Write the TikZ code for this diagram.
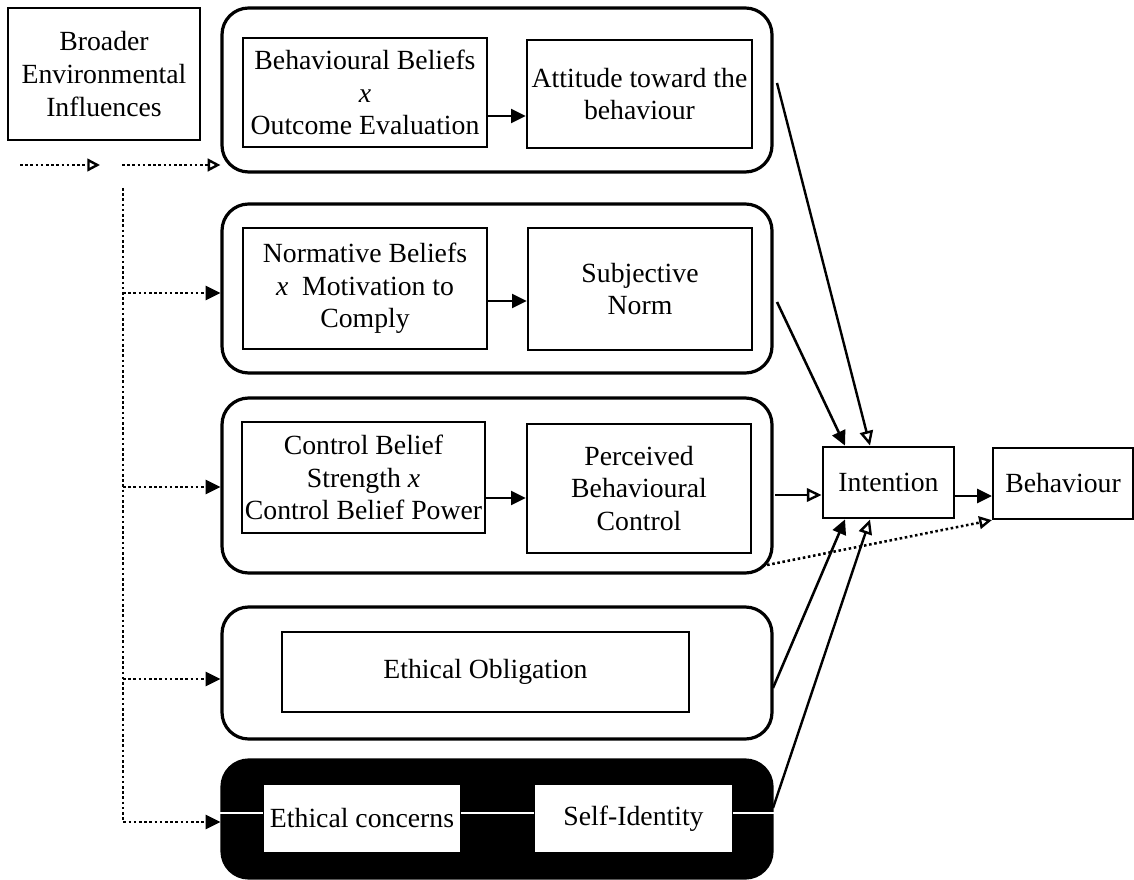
\documentclass[tikz,border=0pt]{standalone}
\usepackage{fontspec}
\setmainfont{Liberation Serif}
\usetikzlibrary{arrows.meta,fit}
\begin{document}
\begin{tikzpicture}[x=0.75pt,y=-0.75pt,
  grp/.style={draw, line width=2.4pt, rounded corners=20pt, inner sep=0pt},
  box/.style={draw, line width=2pt, inner sep=0pt, align=center, fill=white,
              font=\fontsize{20.8}{24.5}\selectfont},
  arr/.style={line width=1.9pt, -{Triangle[length=11pt,width=10.5pt]}},
  arro/.style={line width=1.8pt, -{Triangle[open,length=11pt,width=10pt]}},
  dots/.style={line width=1.9pt, dash pattern=on 1.9pt off 2pt},
  dtip/.style={-{Triangle[open,length=9.5pt,width=9.5pt,line width=1.8pt]}},
  dtipf/.style={-{Triangle[length=11pt,width=10.5pt]}}
]
\useasboundingbox (0,0) rectangle (1134,880);

% source of external influences
\node[box, line width=1.6pt, minimum width=144pt, minimum height=99pt,
      font=\fontsize{20.8}{25}\selectfont] (env) at (104,74)
  {Broader\\Environmental\\Influences};

% group frames
\node[grp, fit={(222,8)(772,172)}]   (g1) {};
\node[grp, fit={(222,204)(772,373)}] (g2) {};
\node[grp, fit={(222,398)(772,573)}] (g3) {};
\node[grp, fit={(222,607)(772,739)}] (g4) {};
\node[grp, fill=black, fit={(222,760)(772,878)}] (g5) {};

% group 1: attitude
\node[box, minimum width=183pt, minimum height=81.75pt] (bb) at (365,92.5)
  {Behavioural Beliefs\\\textit{x}\\Outcome Evaluation};
\node[box, minimum width=168.75pt, minimum height=81pt] (att) at (639.5,94)
  {Attitude toward the\\behaviour};
\draw[arr] (bb.east |- 0,116) -- (att.west |- 0,116);

% group 2: subjective norm
\node[box, minimum width=183pt, minimum height=90.75pt] (nb) at (365,288.5)
  {Normative Beliefs\\\textit{x}\ \ Motivation to\\Comply};
\node[box, minimum width=168pt, minimum height=91.5pt] (sn) at (640,289)
  {Subjective\\Norm};
\draw[arr] (nb.east |- 0,301) -- (sn.west |- 0,301);

% group 3: perceived behavioural control
\node[box, minimum width=182.25pt, minimum height=83.25pt] (cb) at (363.5,477.5)
  {Control Belief\\Strength \textit{x}\\Control Belief Power};
\node[box, minimum width=168pt, minimum height=96.75pt] (pbc) at (639,488.5)
  {Perceived\\Behavioural\\Control};
\draw[arr] (cb.east |- 0,498) -- (pbc.west |- 0,498);

% group 4: ethical obligation
\node[box, minimum width=305.25pt, minimum height=60pt] (eo) at (485.5,672)
  {Ethical Obligation};

% group 5: self-identity
\node[box, draw=none, minimum width=147pt, minimum height=50.25pt] (ec) at (362,818.5)
  {Ethical concerns};
\node[box, draw=none, minimum width=147.75pt, minimum height=50.25pt] (si) at (633.5,818.5)
  {Self-Identity};
\draw[white, line width=0.8pt] (g5.west |- 0,813) -- (ec.west |- 0,813);
\draw[white, line width=0.8pt] (ec.east |- 0,813) -- (si.west |- 0,813);
\draw[white, line width=0.8pt] (si.east |- 0,813) -- (g5.east |- 0,813);

% intention and behaviour
\node[box, line width=2.1pt, minimum width=98.25pt, minimum height=53.25pt] (int) at (888.5,482.5)
  {Intention};
\node[box, line width=1.7pt, minimum width=105pt, minimum height=53.25pt] (beh) at (1063,483.5)
  {Behaviour};
\draw[arr] (int.east |- 0,496) -- (beh.west |- 0,496);

% connectors into intention
\coordinate (a1) at (777,83);
\coordinate (a2) at (777,302);
\coordinate (a3) at (775,495);
\coordinate (a4) at (773,688);
\coordinate (a5) at (773,808);
\coordinate (a6) at (762,566);
\draw[arro] (a1) -- (int.north -| 870,0);
\draw[arr]  (a2) -- (int.north -| 845,0);
\draw[arro] (a3) -- (int.west |- 0,495);
\draw[arr]  (a4) -- (int.south -| 845,0);
\draw[arro] (a5) -- (int.south -| 870,0);
\draw[dots, dtip] (a6) -- (beh.south west);

% environmental influences
\coordinate (d0) at (20,165);
\coordinate (d1) at (100,165);
\coordinate (d2) at (122,165);
\coordinate (vt) at (123,188);
\draw[dots, dtip] (d0) -- (d1);
\draw[dots, dtip] (d2) -- (g1.west |- 0,165);
\draw[dots, dtipf] (vt) |- (g5.west |- 0,822);
\draw[dots, dtipf] (vt |- 0,293) -- (g2.west |- 0,293);
\draw[dots, dtipf] (vt |- 0,487) -- (g3.west |- 0,487);
\draw[dots, dtipf] (vt |- 0,679) -- (g4.west |- 0,679);
\end{tikzpicture}
\end{document}
